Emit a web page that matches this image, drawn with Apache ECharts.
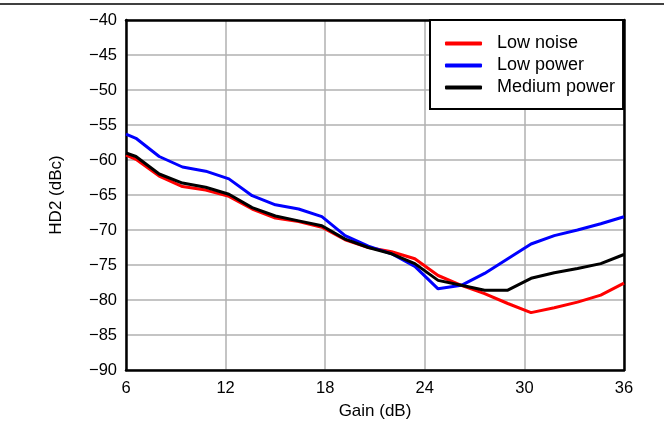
<!DOCTYPE html>
<html>
<head>
<meta charset="utf-8">
<script src="https://cdn.jsdelivr.net/npm/echarts@6/dist/echarts.min.js"></script>
<style>
  html, body { margin: 0; padding: 0; background: #fff; }
  #chart { width: 664px; height: 425px; }
</style>
</head>
<body>
<div id="chart"></div>
<script>
  // gain settings (dB)
  var gain = [6, 6.6, 8, 9.4, 10.8, 12.2, 13.6, 15, 16.4, 17.8, 19.2, 20.6, 22, 23.4, 24.8, 26.2, 27.6, 29, 30.4, 31.8, 33.2, 34.6, 36];
  // HD2 (dBc)
  var lowNoise = [-59.3, -59.9, -62.3, -63.8, -64.3, -65.2, -67.0, -68.3, -68.8, -69.6, -71.4, -72.5, -73.1, -74.1, -76.5, -77.9, -79.1, -80.5, -81.8, -81.1, -80.3, -79.3, -77.6];
  var lowPower = [-56.3, -56.9, -59.5, -61.0, -61.6, -62.7, -65.1, -66.4, -67.0, -68.1, -70.8, -72.3, -73.4, -75.2, -78.4, -77.9, -76.2, -74.1, -72.0, -70.8, -70.0, -69.1, -68.1];
  var mediumPower = [-59.0, -59.5, -62.0, -63.3, -63.9, -64.9, -66.8, -68.0, -68.7, -69.4, -71.3, -72.5, -73.4, -74.8, -77.2, -77.9, -78.6, -78.6, -76.9, -76.1, -75.5, -74.8, -73.5];

  var names = ['Low noise', 'Low power', 'Medium power'];
  var colors = ['#ff0000', '#0000ff', '#000000'];
  var values = [lowNoise, lowPower, mediumPower];

  var font = 'Liberation Sans, Arial, sans-serif';
  var minus = function (v) { return String(v).replace('-', '\u2212'); };

  var chart = echarts.init(document.getElementById('chart'), null, { renderer: 'canvas' });

  var option = {
    animation: false,
    grid: { left: 126, right: 40, top: 20, bottom: 53 },
    legend: {
      data: names,
      left: 430,
      top: 20,
      orient: 'vertical',
      backgroundColor: '#fff',
      borderColor: '#000',
      borderWidth: 2,
      borderRadius: 0,
      padding: [14, 8, 12, 15],
      itemWidth: 37,
      itemHeight: 4,
      itemGap: 3,
      icon: 'roundRect',
      textStyle: { fontFamily: font, fontSize: 18, lineHeight: 19, color: '#000', padding: [0, 0, 0, 10] },
      z: 10
    },
    xAxis: [{
      type: 'value',
      min: 6, max: 36, interval: 6,
      name: 'Gain (dB)',
      nameLocation: 'middle',
      nameGap: 33,
      nameTextStyle: { fontFamily: font, fontSize: 17, color: '#000' },
      axisLine: { lineStyle: { color: '#000', width: 2.5 } },
      axisTick: { show: false },
      axisLabel: { fontFamily: font, fontSize: 16.5, color: '#000', margin: 10 },
      splitLine: { lineStyle: { color: '#b0b0b0', width: 1.5 } }
    }, {
      type: 'value', position: 'top',
      min: 6, max: 36, interval: 6,
      axisLine: { lineStyle: { color: '#000', width: 2.5 } },
      axisTick: { show: false }, axisLabel: { show: false }, splitLine: { show: false }
    }],
    yAxis: [{
      type: 'value',
      min: -90, max: -40, interval: 5,
      name: 'HD2 (dBc)',
      nameLocation: 'middle',
      nameGap: 61,
      nameTextStyle: { fontFamily: font, fontSize: 17, color: '#000' },
      axisLine: { show: true, lineStyle: { color: '#000', width: 2.5 } },
      axisTick: { show: false },
      axisLabel: { fontFamily: font, fontSize: 16.5, color: '#000', margin: 9, formatter: minus },
      splitLine: { lineStyle: { color: '#b0b0b0', width: 1.5 } }
    }, {
      type: 'value', position: 'right',
      min: -90, max: -40, interval: 5,
      axisLine: { show: true, lineStyle: { color: '#000', width: 2.5 } },
      axisTick: { show: false }, axisLabel: { show: false }, splitLine: { show: false }
    }],
    graphic: [{
      type: 'line',
      shape: { x1: 0, y1: 4, x2: 664, y2: 4 },
      style: { stroke: '#000', lineWidth: 1.5 }
    }],
    series: names.map(function (n, i) {
      return {
        name: n,
        type: 'line',
        data: gain.map(function (g, j) { return [g, values[i][j]]; }),
        showSymbol: false,
        lineStyle: { color: colors[i], width: 3 },
        itemStyle: { color: colors[i] },
        z: 3 + i
      };
    })
  };

  chart.setOption(option);
</script>
</body>
</html>
